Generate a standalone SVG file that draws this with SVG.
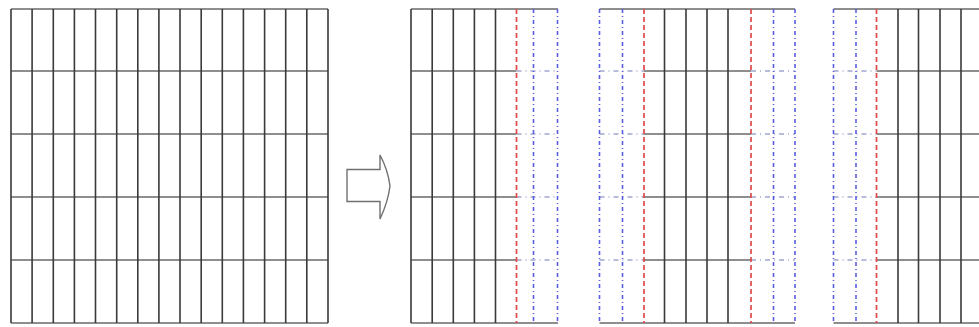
<svg xmlns="http://www.w3.org/2000/svg" width="979" height="327" viewBox="0 0 979 327">
  <style>
    .grid { stroke: #3a3a3a; stroke-width: 1.6; fill: none; }
    .rule { stroke: #6a6a6a; stroke-width: 1.6; fill: none; }
    .cut { stroke: #e0484a; stroke-width: 1.7; stroke-dasharray: 5 3; fill: none; }
    .seam { stroke: #5a5ee0; stroke-width: 1.6; stroke-dasharray: 4 3 1 3; fill: none; }
    .seam-h { stroke: #a0a6d0; stroke-width: 1.3; stroke-dasharray: 5 4 1 4; fill: none; }
  </style>
  <rect width="979" height="327" fill="#ffffff"/>

  <!-- whole grid: 15 columns x 5 rows -->
  <g id="grid-whole">
    <path class="rule" d="M11 9H328M11 71H328M11 134H328M11 197H328M11 260H328M11 323H328"/>
    <path class="grid" d="M11 9V323M32.1 9V323M53.3 9V323M74.4 9V323M95.5 9V323M116.7 9V323M137.8 9V323M158.9 9V323M180 9V323M201.2 9V323M222.3 9V323M243.4 9V323M264.6 9V323M285.7 9V323M306.8 9V323M328 9V323"/>
  </g>

  <!-- hollow arrow -->
  <g id="arrow">
    <path d="M347 169.5H380V155Q388 170 390 186Q388 202 380 219V201.5H347Z" fill="#ffffff" stroke="#707070" stroke-width="1.4"/>
  </g>

  <!-- first piece -->
  <g id="piece-1">
    <path class="rule" d="M411 9H558M411 323H558M411 71H516.5M411 134H516.5M411 197H516.5M411 260H516.5"/>
    <path class="seam-h" d="M516.5 71H558M516.5 134H558M516.5 197H558M516.5 260H558"/>
    <path class="grid" d="M411 9V323M432.2 9V323M453.3 9V323M474.4 9V323M495.5 9V323"/>
    <path class="cut" d="M516.5 9V323"/>
    <path class="seam" d="M533.5 9V323M557.5 9V323"/>
  </g>

  <!-- middle piece -->
  <g id="piece-2">
    <path class="rule" d="M599.5 9H795M599.5 323H795M644 71H751M644 134H751M644 197H751M644 260H751"/>
    <path class="seam-h" d="M599.5 71H644M599.5 134H644M599.5 197H644M599.5 260H644M751 71H795M751 134H795M751 197H795M751 260H795"/>
    <path class="grid" d="M664.5 9V323M686 9V323M707 9V323M728 9V323"/>
    <path class="cut" d="M644 9V323M751 9V323"/>
    <path class="seam" d="M599.5 9V323M622.5 9V323M773.5 9V323M795 9V323"/>
  </g>

  <!-- last piece -->
  <g id="piece-3">
    <path class="rule" d="M833.5 9H985M833.5 323H985M876.5 71H985M876.5 134H985M876.5 197H985M876.5 260H985"/>
    <path class="seam-h" d="M833.5 71H876.5M833.5 134H876.5M833.5 197H876.5M833.5 260H876.5"/>
    <path class="grid" d="M898 9V323M918.5 9V323M940 9V323M961 9V323"/>
    <path class="cut" d="M876.5 9V323"/>
    <path class="seam" d="M833.5 9V323M856 9V323"/>
  </g>
</svg>
